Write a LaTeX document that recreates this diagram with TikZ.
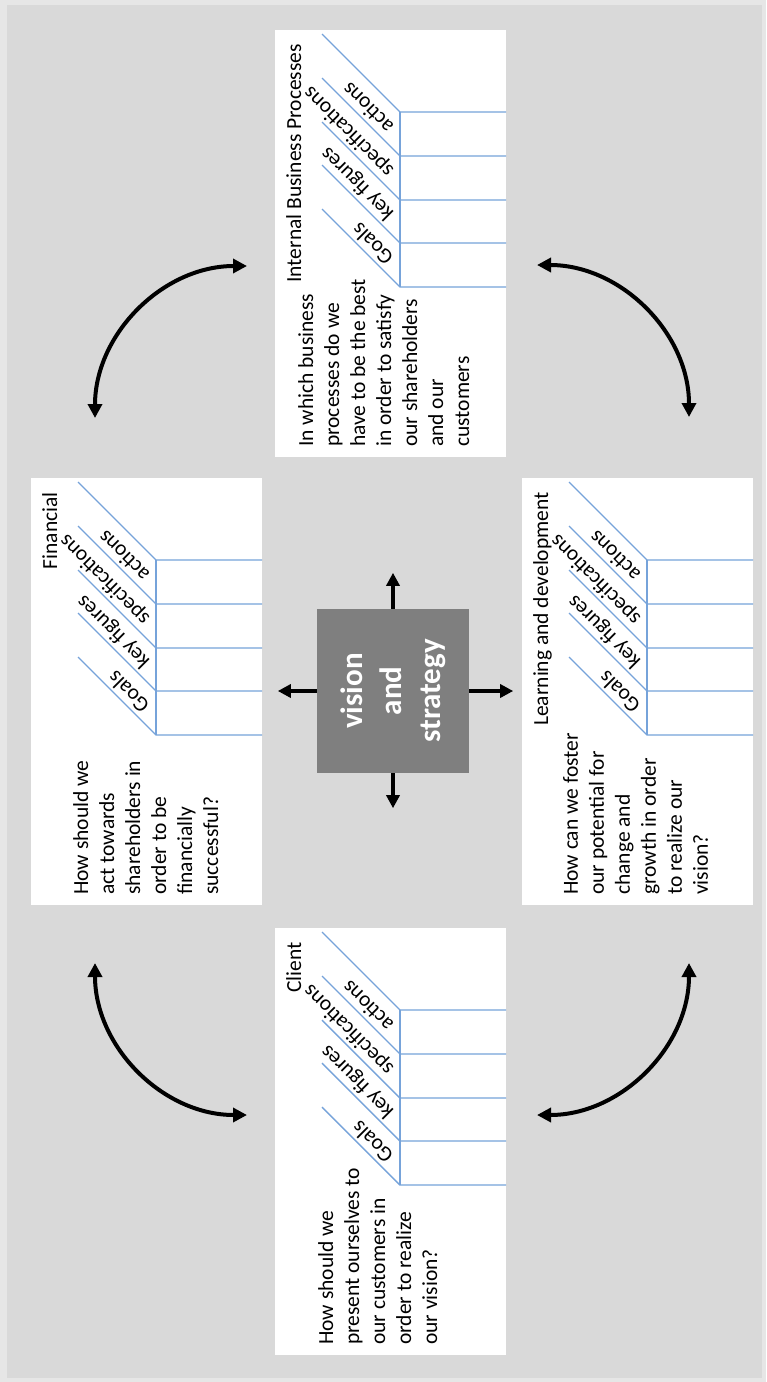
\documentclass[tikz,border=0pt]{standalone}
\usepackage{fontspec}
\setmainfont{Carlito}
\usetikzlibrary{arrows.meta}
\definecolor{bgout}{HTML}{E6E6E6}
\definecolor{bgin}{HTML}{D9D9D9}
\definecolor{gridblue}{HTML}{76A3DA}
\definecolor{centergray}{HTML}{7F7F7F}
\newcommand\qfont{\fontsize{21.5}{26}\selectfont}
\newcommand\cfont{\fontsize{31}{39}\selectfont\bfseries}
\tikzset{
  panel/.style={fill=white, draw=none, minimum width=427pt, minimum height=231pt,
    inner sep=0pt, outer sep=0pt, anchor=north west},
  gridline/.style={draw=gridblue, line width=1.4pt},
  qtext/.style={font=\qfont, align=left, anchor=north west, inner sep=0pt},
  ttl/.style={font=\qfont, anchor=base east, inner sep=0pt},
  colhead/.style={font=\qfont, rotate=45, anchor=mid west, inner sep=0pt},
  centerbox/.style={fill=centergray, draw=none, minimum width=164pt, minimum height=152pt,
    inner sep=0pt, font=\cfont, text=white, align=center},
  carrow/.style={line width=4pt, -{Triangle[length=13pt,width=13pt]}},
  darrow/.style={line width=4pt, {Triangle[length=14pt,width=14pt]}-{Triangle[length=14pt,width=14pt]}},
}
% #1 X0, #2 Y0, #3 name, #4 title, #5 top of question text, #6 question
\newcommand\bscpanel[6]{%
\begin{scope}[shift={(#1,-#2)}]
  \node[panel] (#3) at (0,0) {};
  \draw[gridline] (170,-125) -- (345,-125);
  \foreach \gx in {170,214,257,301,345}{
    \draw[gridline] (\gx,-231) -- (\gx,-125) -- ++(78,78);
  }
  \node[colhead] (#3-goals) at (199,-118) {Goals};
  \node[colhead] (#3-key) at (243,-118) {key figures};
  \node[colhead] (#3-spec) at (286,-118) {specifications};
  \node[colhead] (#3-act) at (330,-118) {actions};
  \node[ttl] (#3-title) at (413,-26) {#4};
  \node[qtext] (#3-q) at (10,-#5) {#6};
\end{scope}}
\begin{document}
\begin{tikzpicture}[x=1pt,y=1pt]
\useasboundingbox (0,0) rectangle (766,-1382);
\fill[bgout] (0,0) rectangle (766,-1382);
\begin{scope}[shift={(0,-1382)}, rotate=90, transform shape]
  \fill[bgin] (4,-7) rectangle (1377,-762);
  \bscpanel{27}{275}{client}{Client}{43}{How should we\\present ourselves to\\our customers in\\order to realize\\our vision?}
  \bscpanel{477}{31}{fin}{Financial}{42}{How should we\\act towards\\shareholders in\\order to be\\financially\\successful?}
  \bscpanel{477}{522}{learn}{Learning and development}{41}{How can we foster\\our potential for\\change and\\growth in order\\to realize our\\vision?}
  \bscpanel{925}{275}{internal}{Internal Business Processes}{23}{In which business\\processes do we\\have to be the best\\in order to satisfy\\our shareholders\\and our\\customers}
  \node[centerbox] (cb) at (691,-393) {vision\\and\\strategy};
  \draw[carrow] (cb.east) -- ++(36,0);
  \draw[carrow] (cb.west) -- ++(-35,0);
  \draw[carrow] (cb.north) -- ++(0,39);
  \draw[carrow] (cb.south) -- ++(0,-44);
  \coordinate (a1) at (964,-95);
  \coordinate (a2) at (1117,-537);
  \coordinate (a3) at (267,-247);
  \coordinate (a4) at (419,-689);
  \draw[darrow] (a1) arc[start angle=90, end angle=0, radius=152];
  \draw[darrow] (a2) arc[start angle=0, end angle=-90, radius=152];
  \draw[darrow] (a3) arc[start angle=180, end angle=90, radius=152];
  \draw[darrow] (a4) arc[start angle=270, end angle=180, radius=152];
\end{scope}
\end{tikzpicture}
\end{document}
